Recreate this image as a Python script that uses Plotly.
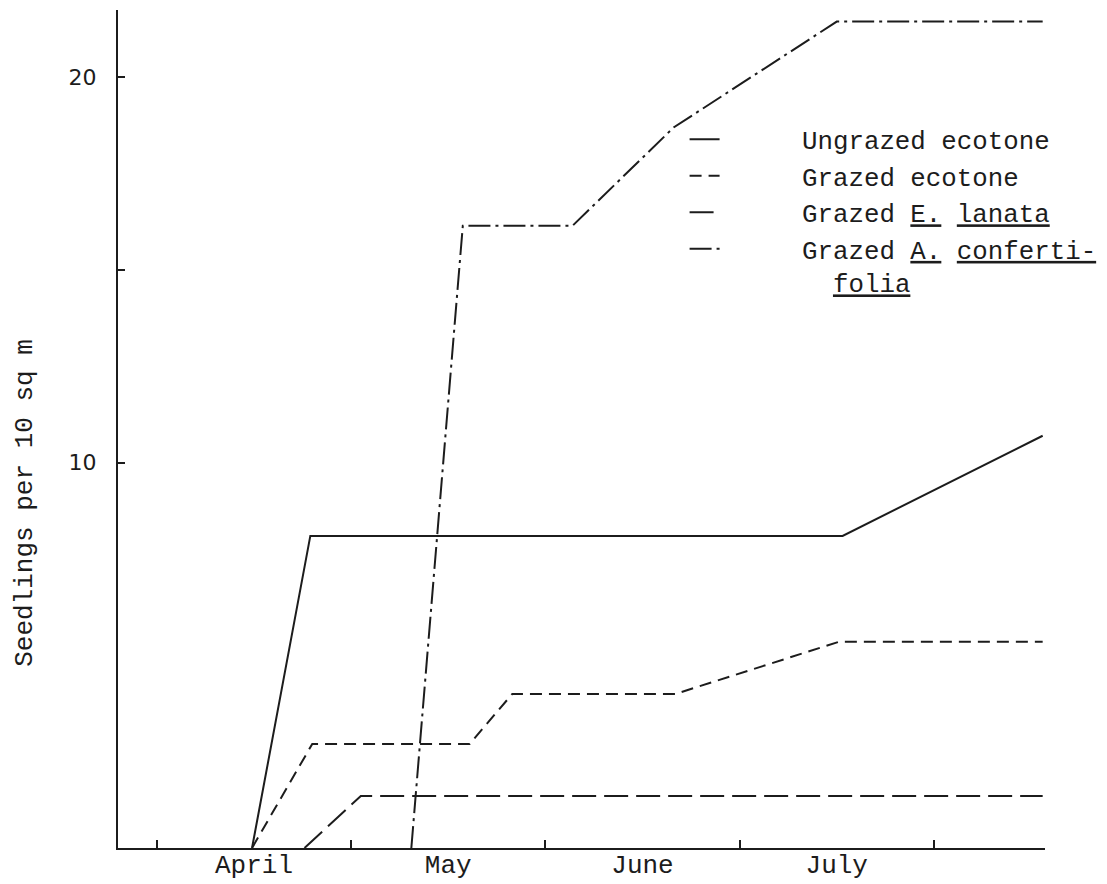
import plotly.graph_objects as go

# x position: months after 1 April (0 = 1 April, 1 = 1 May, ...)
month_labels = ["April", "May", "June", "July"]
month_label_pos = [0.5, 1.5, 2.5, 3.5]
month_bounds = [0, 1, 2, 3, 4]

ungrazed_x = [0.49, 0.79, 3.53, 4.56]
ungrazed_y = [0, 8.1, 8.1, 10.7]

grazed_eco_x = [0.49, 0.80, 1.61, 1.83, 2.67, 3.51, 4.56]
grazed_eco_y = [0, 2.7, 2.7, 4.0, 4.0, 5.35, 5.35]

lanata_x = [0.76, 1.05, 4.56]
lanata_y = [0, 1.35, 1.35]

conf_x = [1.31, 1.575, 2.14, 2.66, 3.50, 4.56]
conf_y = [0, 16.15, 16.15, 18.7, 21.45, 21.45]

y_tick_vals = [10, 15, 20]
y_tick_text = ["10", "", "20"]

FONT = "Liberation Mono, Courier New, monospace"
INK = "#1c1c1c"
PAD = "\u00a0" * 5  # typewriter-style gap between key line and label

fig = go.Figure()
fig.add_trace(go.Scatter(x=ungrazed_x, y=ungrazed_y, mode="lines",
                         name=PAD + "Ungrazed ecotone",
                         line=dict(color=INK, width=2, dash="solid")))
fig.add_trace(go.Scatter(x=grazed_eco_x, y=grazed_eco_y, mode="lines",
                         name=PAD + "Grazed ecotone",
                         line=dict(color=INK, width=2, dash="12px,7px")))
fig.add_trace(go.Scatter(x=lanata_x, y=lanata_y, mode="lines",
                         name=PAD + "Grazed <u>E.</u> <u>lanata</u>",
                         line=dict(color=INK, width=2, dash="24px,8px")))
fig.add_trace(go.Scatter(x=conf_x, y=conf_y, mode="lines",
                         name=PAD + "Grazed <u>A.</u> <u>conferti-</u><br>"
                              + PAD + "\u00a0\u00a0<u>folia</u>",
                         line=dict(color=INK, width=2, dash="22px,5px,3px,5px")))

# the page body adds an 8px margin, so the figure is sized to fit the window
fig.update_layout(
    width=1099, height=876,
    margin=dict(l=110, r=62, t=2, b=35.5, autoexpand=False),
    paper_bgcolor="white", plot_bgcolor="white",
    font=dict(family=FONT, color=INK, size=25),
    showlegend=True,
    legend=dict(x=0.6112, y=0.8736, xanchor="left", yanchor="top",
                bgcolor="rgba(0,0,0,0)", valign="top",
                font=dict(family=FONT, size=25.8, color=INK),
                tracegroupgap=0),
    xaxis=dict(range=[-0.2, 4.572], showgrid=False, zeroline=False,
               showline=True, linecolor=INK, linewidth=2,
               tickmode="array", tickvals=month_label_pos, ticktext=month_labels,
               ticks="", tickfont=dict(family=FONT, size=26, color=INK),
               ticklabelstandoff=-8,
               minor=dict(tickmode="array", tickvals=month_bounds, ticks="inside",
                          ticklen=8, tickwidth=2, tickcolor=INK, showgrid=False),
               automargin=False, fixedrange=True),
    yaxis=dict(range=[0, 21.75], showgrid=False, zeroline=False,
               showline=True, linecolor=INK, linewidth=2,
               tickmode="array", tickvals=y_tick_vals, ticktext=y_tick_text,
               ticks="inside", ticklen=7, tickwidth=2, tickcolor=INK,
               tickfont=dict(family="DejaVu Sans", size=22, color=INK),
               ticklabelstandoff=15,
               automargin=False, fixedrange=True),
)

fig.add_annotation(text="Seedlings per 10 sq m", textangle=-90,
                   xref="paper", yref="y", x=-0.1003, y=8.96,
                   xanchor="center", yanchor="middle",
                   showarrow=False, font=dict(family=FONT, size=26, color=INK))

fig.write_html("out.html")
